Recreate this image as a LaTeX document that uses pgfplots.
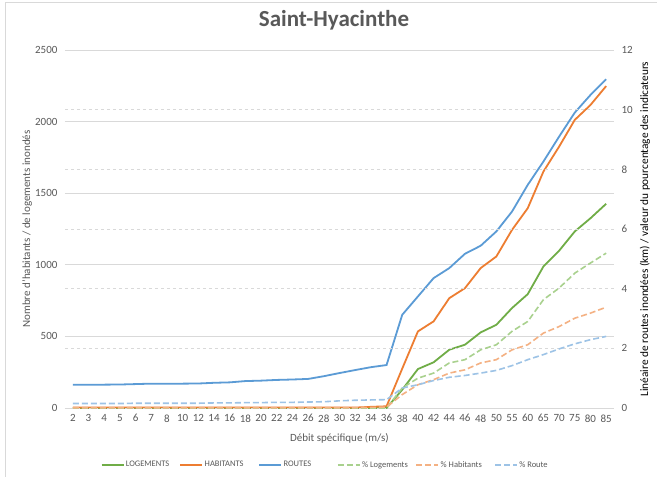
\documentclass[border=0pt]{standalone}
\usepackage{fontspec}
\setmainfont{Carlito}
\usepackage{pgfplots}
\usepackage{pgfplotstable}
\pgfplotsset{compat=1.18}
\definecolor{cgreen}{HTML}{70AD47}
\definecolor{corange}{HTML}{ED7D31}
\definecolor{cblue}{HTML}{5B9BD5}
\definecolor{lgreen}{HTML}{A9D18E}
\definecolor{lorange}{HTML}{F4B183}
\definecolor{lblue}{HTML}{9DC3E6}
\definecolor{txt}{HTML}{595959}
\definecolor{gridc}{HTML}{D9D9D9}
\pgfplotstableread{
i cat log hab rou plog phab prou
0 2 0 3 163 0 0.01 0.15
1 3 0 3 163 0 0.01 0.15
2 4 0 3 163 0 0.01 0.15
3 5 0 3 164 0 0.01 0.15
4 6 0 3 167 0 0.01 0.16
5 7 0 3 170 0 0.01 0.16
6 8 0 3 170 0 0.01 0.16
7 10 0 3 170 0 0.01 0.16
8 12 0 3 171 0 0.01 0.16
9 14 0 3 176 0 0.01 0.17
10 16 0 3 179 0 0.01 0.17
11 18 0 3 188 0 0.01 0.18
12 20 0 3 191 0 0.01 0.18
13 22 0 3 196 0 0.01 0.19
14 24 0 3 199 0 0.01 0.19
15 26 0 3 203 0 0.01 0.20
16 28 0 3 222 0 0.01 0.21
17 30 0 3 244 0 0.01 0.24
18 32 0 3 265 0 0.01 0.26
19 34 0 8 285 0 0.02 0.27
20 36 0 12 300 0 0.03 0.28
21 38 128 275 651 0.67 0.45 0.67
22 40 272 535 779 1.00 0.78 0.78
23 42 319 605 907 1.17 0.95 0.92
24 44 407 767 977 1.51 1.17 1.03
25 46 442 837 1077 1.62 1.28 1.09
26 48 528 977 1133 1.95 1.51 1.17
27 50 581 1058 1233 2.12 1.62 1.26
28 55 698 1244 1372 2.57 1.95 1.42
29 60 795 1395 1558 2.90 2.12 1.62
30 65 988 1651 1721 3.63 2.51 1.79
31 70 1098 1825 1895 4.02 2.73 1.98
32 75 1233 2012 2063 4.52 3.01 2.15
33 80 1325 2116 2186 4.86 3.18 2.29
34 85 1426 2248 2296 5.19 3.38 2.40
}\data
\pgfplotsset{
  common/.style={
    scale only axis, width=549pt, height=358pt,
    at={(65pt,69pt)}, anchor=south west,
    xmin=-0.5, xmax=34.5, ymin=0,
    axis line style={draw=none},
    major tick length=0pt,
    tick label style={font=\fontsize{11}{13}\selectfont, text=txt},
    /pgf/number format/assume math mode=true,
    /pgf/number format/1000 sep={},
    label style={font=\fontsize{11}{13}\selectfont, text=txt},
    clip=false,
  }
}
\newcommand{\legbox}[1]{\makebox[52pt][l]{#1}}
\begin{document}
\begin{tikzpicture}
\path[use as bounding box, fill=white] (0,0) rectangle (657pt,477pt);
\draw[gridc, line width=0.7pt] (5pt,0) -- (5pt,475pt) -- (657pt,475pt);
\node[font=\fontsize{23}{27}\selectfont\bfseries, text=txt] at (334pt,457pt) {Saint-Hyacinthe};
\begin{axis}[common,
  ymax=2500, ytick={0,500,...,2500},
  ymajorgrids, grid style={gridc, line width=0.8pt},
  yticklabel style={xshift=-4pt},
  xtick={0,...,34},
  xticklabels={2,3,4,5,6,7,8,10,12,14,16,18,20,22,24,26,28,30,32,34,36,38,40,42,44,46,48,50,55,60,65,70,75,80,85},
  xticklabel style={yshift=-3pt},
  xlabel={Débit spécifique (m/s)},
  xlabel style={at={(axis description cs:0.5,-0.084)}, anchor=center},
  ylabel={Nombre d'habitants / de logements inondés},
  ylabel style={at={(axis description cs:-0.069,0.5)}, anchor=center},
]
\addplot[cgreen, line width=1.8pt] table[x=i, y=log] {\data};
\addplot[corange, line width=1.8pt] table[x=i, y=hab] {\data};
\addplot[cblue, line width=1.8pt] table[x=i, y=rou] {\data};
\end{axis}
\begin{axis}[common,
  ymax=12, ytick={0,2,...,12},
  axis y line*=right, axis x line=none,
  ymajorgrids, grid style={gridc, dashed, line width=0.5pt},
  yticklabel style={xshift=4pt},
  xtick=\empty,
  every axis y label/.style={at={(axis description cs:1.0565,0.5)}, rotate=90, anchor=center, font=\fontsize{11.3}{13}\selectfont},
  ylabel={Linéaire de routes inondées (km) / valeur du pourcentage des indicateurs},
  legend columns=6,
  legend style={at={(axis description cs:0.0645,-0.159)}, anchor=west, draw=none, fill=none,
    font=\fontsize{8.5}{10}\selectfont, text=txt, inner sep=0pt,
    nodes={inner sep=1.5pt},
    /tikz/every even column/.append style={column sep=0pt},
    /tikz/every odd column/.append style={column sep=0pt}},
  legend image code/.code={\draw[#1] (0pt,0pt) -- (22pt,0pt);},
]
\addlegendimage{cgreen, line width=1.8pt}
\addlegendentry{\legbox{LOGEMENTS}}
\addlegendimage{corange, line width=1.8pt}
\addlegendentry{\legbox{HABITANTS}}
\addlegendimage{cblue, line width=1.8pt}
\addlegendentry{\legbox{ROUTES}}
\addplot[lgreen, line width=1.6pt, dash pattern=on 6pt off 3pt] table[x=i, y=plog] {\data};
\addlegendentry{\legbox{\% Logements}}
\addplot[lorange, line width=1.6pt, dash pattern=on 6pt off 3pt] table[x=i, y=phab] {\data};
\addlegendentry{\legbox{\% Habitants}}
\addplot[lblue, line width=1.6pt, dash pattern=on 6pt off 3pt] table[x=i, y=prou] {\data};
\addlegendentry{\legbox{\% Route}}
\end{axis}
\end{tikzpicture}
\end{document}
